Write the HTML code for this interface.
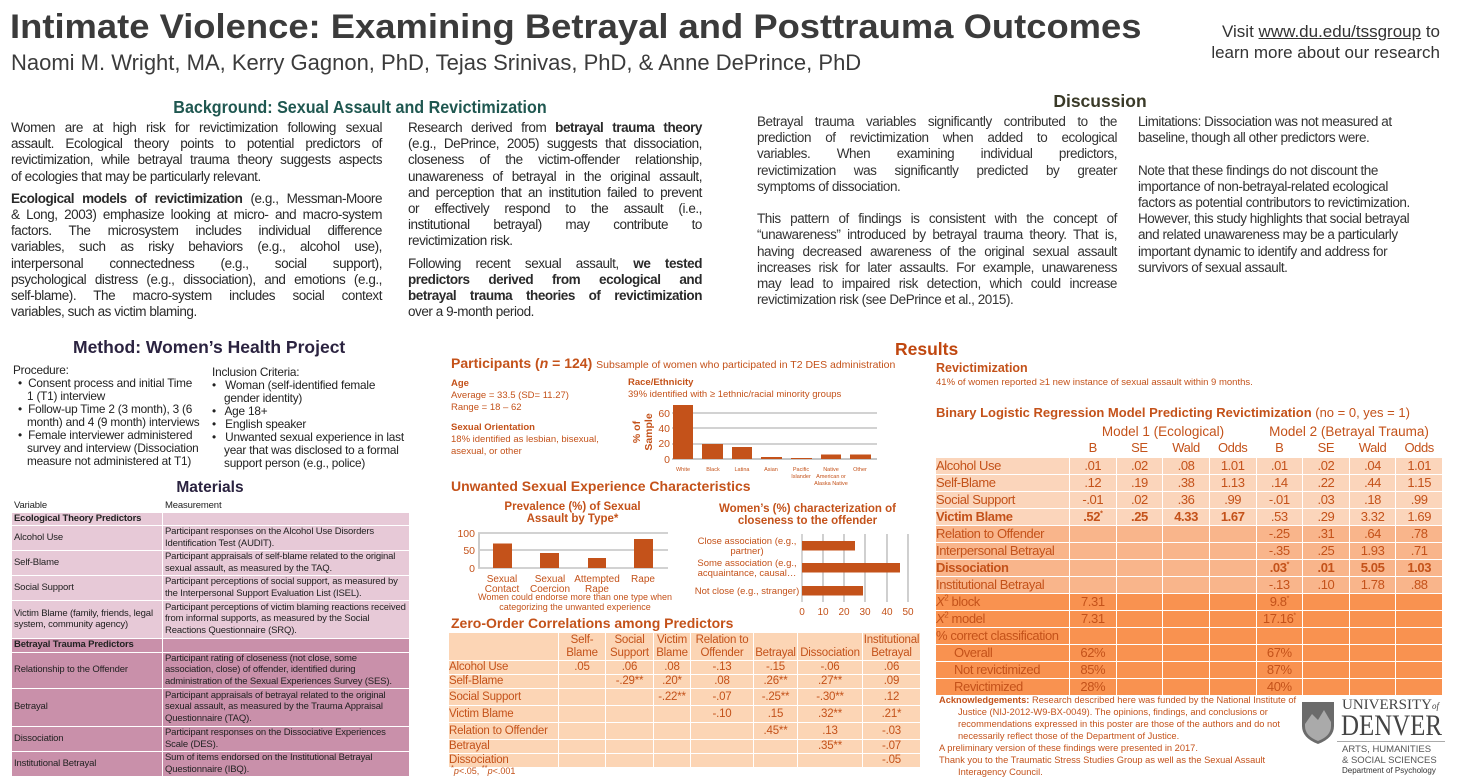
<!DOCTYPE html>
<html><head><meta charset="utf-8"><style>
*{margin:0;padding:0;box-sizing:border-box}
body{width:1458px;height:782px;background:#fff;position:relative;overflow:hidden;font-family:"Liberation Sans",sans-serif;color:#222}
.a{position:absolute}
sup{line-height:0}
.n{font-size:13.5px;line-height:16.2px;letter-spacing:-0.45px;color:#2a2a2a}
.j{text-align:justify;text-align-last:justify;white-space:nowrap}
.n div{height:16.2px}
.or{color:#c4521a}
table{border-collapse:collapse;table-layout:fixed}
.mt td{border:1.5px solid #fff;font-size:9.5px;line-height:11.5px;padding:0 2px;color:#222;vertical-align:middle;letter-spacing:-0.15px;overflow:hidden}
.zt td{border:1px solid #fff;font-size:11.5px;line-height:13px;color:#c4521a;text-align:center;padding:0;letter-spacing:-0.2px;white-space:nowrap}
.rt td{border:1.5px solid #fff;font-size:13px;line-height:12px;color:#c4521a;text-align:center;padding:0;height:17px;letter-spacing:-0.4px;white-space:nowrap;overflow:hidden}
.rt td:first-child{text-align:left}
.l1 td{background:#fbd5bb}.l2 td{background:#f9b58b}.l3 td{background:#f99250}
ul{list-style:none}
</style></head><body>

<div class="a" style="left:10px;top:8px;font-size:34px;font-weight:bold;color:#3b3b3b;transform:scaleX(1.07);transform-origin:0 0;white-space:nowrap">Intimate Violence: Examining Betrayal and Posttrauma Outcomes</div>
<div class="a" style="left:11px;top:50px;font-size:22px;color:#3b3b3b;white-space:nowrap">Naomi M. Wright, MA, Kerry Gagnon, PhD, Tejas Srinivas, PhD, &amp; Anne DePrince, PhD</div>
<div class="a" style="left:1190px;top:21px;width:250px;text-align:right;font-size:17px;line-height:21px;color:#333">Visit <u>www.du.edu/tssgroup</u> to<br>learn more about our research</div>

<div class="a" style="left:100px;top:97px;width:520px;text-align:center;font-size:17.5px;font-weight:bold;color:#1f5750;transform:scaleX(0.92)">Background: Sexual Assault and Revictimization</div>
<div class="a n" style="left:11px;top:120px;width:371px">
<div class="j">Women are at high risk for revictimization following sexual</div>
<div class="j">assault. Ecological theory points to potential predictors of</div>
<div class="j">revictimization, while betrayal trauma theory suggests aspects</div>
<div>of ecologies that may be particularly relevant.</div>
<div style="height:6px"></div>
<div class="j"><b>Ecological models of revictimization</b> (e.g., Messman-Moore</div>
<div class="j">&amp; Long, 2003) emphasize looking at micro- and macro-system</div>
<div class="j">factors. The microsystem includes individual difference</div>
<div class="j">variables, such as risky behaviors (e.g., alcohol use),</div>
<div class="j">interpersonal connectedness (e.g., social support),</div>
<div class="j">psychological distress (e.g., dissociation), and emotions (e.g.,</div>
<div class="j">self-blame). The macro-system includes social context</div>
<div>variables, such as victim blaming.</div>
</div>
<div class="a n" style="left:408px;top:120px;width:294px">
<div class="j">Research derived from <b>betrayal trauma theory</b></div>
<div class="j">(e.g., DePrince, 2005) suggests that dissociation,</div>
<div class="j">closeness of the victim-offender relationship,</div>
<div class="j">unawareness of betrayal in the original assault,</div>
<div class="j">and perception that an institution failed to prevent</div>
<div class="j">or effectively respond to the assault (i.e.,</div>
<div class="j">institutional betrayal) may contribute to</div>
<div>revictimization risk.</div>
<div style="height:6px"></div>
<div class="j">Following recent sexual assault, <b>we tested</b></div>
<div class="j"><b>predictors derived from ecological and</b></div>
<div class="j"><b>betrayal trauma theories of revictimization</b></div>
<div>over a 9-month period.</div>
</div>

<div class="a" style="left:1000px;top:91px;width:200px;text-align:center;font-size:17.5px;font-weight:bold;color:#3a3a28">Discussion</div>
<div class="a n" style="left:757px;top:114px;width:360px;color:#333">
<div class="j">Betrayal trauma variables significantly contributed to the</div>
<div class="j">prediction of revictimization when added to ecological</div>
<div class="j">variables. When examining individual predictors,</div>
<div class="j">revictimization was significantly predicted by greater</div>
<div>symptoms of dissociation.</div>
<div></div>
<div class="j">This pattern of findings is consistent with the concept of</div>
<div class="j">“unawareness” introduced by betrayal trauma theory. That is,</div>
<div class="j">having decreased awareness of the original sexual assault</div>
<div class="j">increases risk for later assaults. For example, unawareness</div>
<div class="j">may lead to impaired risk detection, which could increase</div>
<div>revictimization risk (see DePrince et al., 2015).</div>
</div>
<div class="a n" style="left:1138px;top:114px;width:300px;color:#333">
<div>Limitations: Dissociation was not measured at</div>
<div>baseline, though all other predictors were.</div>
<div></div>
<div>Note that these findings do not discount the</div>
<div>importance of non-betrayal-related ecological</div>
<div>factors as potential contributors to revictimization.</div>
<div>However, this study highlights that social betrayal</div>
<div>and related unawareness may be a particularly</div>
<div>important dynamic to identify and address for</div>
<div>survivors of sexual assault.</div>
</div>

<div class="a" style="left:73px;top:337px;font-size:17.5px;font-weight:bold;color:#2b2340">Method: Women’s Health Project</div>
<div class="a" style="left:13px;top:364px;width:200px;font-size:11.8px;line-height:13px;color:#222;letter-spacing:-0.2px">Procedure:
<ul>
<li style="padding-left:14px;text-indent:-9px">•&nbsp; Consent process and initial Time<br>1 (T1) interview</li>
<li style="padding-left:14px;text-indent:-9px">•&nbsp; Follow-up Time 2 (3 month), 3 (6<br>month) and 4 (9 month) interviews</li>
<li style="padding-left:14px;text-indent:-9px">•&nbsp; Female interviewer administered<br>survey and interview (Dissociation<br>measure not administered at T1)</li>
</ul></div>
<div class="a" style="left:212px;top:366px;width:205px;font-size:11.8px;line-height:13px;color:#222;letter-spacing:-0.2px">Inclusion Criteria:
<ul>
<li style="padding-left:12px;text-indent:-12px">•&nbsp;&nbsp; Woman (self-identified female<br>gender identity)</li>
<li style="padding-left:12px;text-indent:-12px">•&nbsp;&nbsp; Age 18+</li>
<li style="padding-left:12px;text-indent:-12px">•&nbsp;&nbsp; English speaker</li>
<li style="padding-left:12px;text-indent:-12px">•&nbsp;&nbsp; Unwanted sexual experience in last<br>year that was disclosed to a formal<br>support person (e.g., police)</li>
</ul></div>

<div class="a" style="left:110px;top:479px;width:200px;text-align:center;font-size:15.5px;font-weight:bold;color:#2b2340">Materials</div>
<table class="a mt" style="left:11px;top:499px;width:399px">
<colgroup><col style="width:151px"><col></colgroup>
<tr style="height:11px"><td style="background:#fff">Variable</td><td style="background:#fff">Measurement</td></tr>
<tr style="height:13px;background:#e7c9d7"><td><b>Ecological Theory Predictors</b></td><td></td></tr>
<tr style="height:25px;background:#e7c9d7"><td>Alcohol Use</td><td>Participant responses on the Alcohol Use Disorders Identification Test (AUDIT).</td></tr>
<tr style="height:25px;background:#e7c9d7"><td>Self-Blame</td><td>Participant appraisals of self-blame related to the original sexual assault, as measured by the TAQ.</td></tr>
<tr style="height:25px;background:#e7c9d7"><td>Social Support</td><td>Participant perceptions of social support, as measured by the Interpersonal Support Evaluation List (ISEL).</td></tr>
<tr style="height:38px;background:#e7c9d7"><td>Victim Blame (family, friends, legal system, community agency)</td><td>Participant perceptions of victim blaming reactions received from informal supports, as measured by the Social Reactions Questionnaire (SRQ).</td></tr>
<tr style="height:14px;background:#c990aa"><td><b>Betrayal Trauma Predictors</b></td><td></td></tr>
<tr style="height:36px;background:#c990aa"><td>Relationship to the Offender</td><td>Participant rating of closeness (not close, some association, close) of offender, identified during administration of the Sexual Experiences Survey (SES).</td></tr>
<tr style="height:38px;background:#c990aa"><td>Betrayal</td><td>Participant appraisals of betrayal related to the original sexual assault, as measured by the Trauma Appraisal Questionnaire (TAQ).</td></tr>
<tr style="height:25px;background:#c990aa"><td>Dissociation</td><td>Participant responses on the Dissociative Experiences Scale (DES).</td></tr>
<tr style="height:25px;background:#c990aa"><td>Institutional Betrayal</td><td>Sum of items endorsed on the Institutional Betrayal Questionnaire (IBQ).</td></tr>
</table>

<div class="a or" style="left:451px;top:355px;font-size:14px;font-weight:bold;white-space:nowrap">Participants (<i>n</i> = 124) <span style="font-weight:normal;font-size:10.5px">Subsample of women who participated in T2 DES administration</span></div>
<div class="a or" style="left:451px;top:378px;font-size:9.5px;line-height:12px"><b>Age</b><br>Average = 33.5 (SD= 11.27)<br>Range = 18 – 62<br><div style="height:8px"></div><b>Sexual Orientation</b><br>18% identified as lesbian, bisexual,<br>asexual, or other</div>
<div class="a or" style="left:628px;top:377px;font-size:9.5px;line-height:12px"><b>Race/Ethnicity</b><br>39% identified with ≥ 1ethnic/racial minority groups</div>
<div class="a or" style="left:451px;top:478px;font-size:14px;font-weight:bold">Unwanted Sexual Experience Characteristics</div>
<div class="a or" style="left:470px;top:501px;width:205px;text-align:center;font-size:11.5px;line-height:12px;font-weight:bold">Prevalence (%) of Sexual<br>Assault by Type*</div>
<div class="a or" style="left:700px;top:503px;width:215px;text-align:center;font-size:11.5px;line-height:12px;font-weight:bold">Women’s (%) characterization of<br>closeness to the offender</div>

<svg class="a" style="left:0;top:0" width="1458" height="782" font-family="Liberation Sans, sans-serif">
<g fill="#c4521a" font-size="8.5">
<g stroke="#888" stroke-width="0.8"><line x1="672" y1="413" x2="877" y2="413"/><line x1="672" y1="428" x2="877" y2="428"/><line x1="672" y1="444" x2="877" y2="444"/><line x1="672" y1="459" x2="877" y2="459" stroke="#666"/></g>
<rect x="673" y="405" width="20" height="54"/><rect x="702" y="444" width="21" height="15"/><rect x="732" y="447" width="20" height="12"/><rect x="761" y="457" width="21" height="2"/><rect x="791" y="458" width="21" height="1"/><rect x="821" y="454.5" width="20" height="4.5"/><rect x="850" y="454.5" width="21" height="4.5"/>
<g font-size="10.5" text-anchor="end"><text x="670" y="417">60</text><text x="670" y="432">40</text><text x="670" y="447">20</text><text x="670" y="463">0</text></g>
<text transform="translate(640,432) rotate(-90)" text-anchor="middle" font-size="10.5" font-weight="bold">% of</text>
<text transform="translate(652,432) rotate(-90)" text-anchor="middle" font-size="10.5" font-weight="bold">Sample</text>
<g font-size="5.5" text-anchor="middle"><text x="683" y="471">White</text><text x="713" y="471">Black</text><text x="742" y="471">Latina</text><text x="771" y="471">Asian</text><text x="801" y="471">Pacific</text><text x="801" y="478">Islander</text><text x="831" y="471">Native</text><text x="831" y="478">American or</text><text x="831" y="485">Alaska Native</text><text x="860" y="471">Other</text></g>
<g stroke="#888" stroke-width="0.8"><line x1="478" y1="533" x2="668" y2="533"/><line x1="478" y1="550" x2="668" y2="550"/><line x1="478" y1="568" x2="668" y2="568"/></g>
<line x1="479" y1="533" x2="479" y2="568" stroke="#ccc" stroke-width="2"/>
<rect x="493" y="543.5" width="19" height="24.5"/><rect x="540" y="553" width="19" height="15"/><rect x="588" y="558" width="18" height="10"/><rect x="634" y="539" width="19" height="29"/>
<g font-size="10.5" text-anchor="end"><text x="475" y="537">100</text><text x="475" y="554">50</text><text x="475" y="572">0</text></g>
<g font-size="10" text-anchor="middle"><text x="502" y="582">Sexual</text><text x="502" y="592">Contact</text><text x="550" y="582">Sexual</text><text x="550" y="592">Coercion</text><text x="597" y="582">Attempted</text><text x="597" y="592">Rape</text><text x="643" y="582">Rape</text>
<text x="575" y="600" font-size="9">Women  could endorse more than one type when</text><text x="575" y="610" font-size="9">categorizing the unwanted experience</text></g>
<g stroke="#888" stroke-width="0.8"><line x1="823" y1="534" x2="823" y2="602"/><line x1="844" y1="534" x2="844" y2="602"/><line x1="865" y1="534" x2="865" y2="602"/><line x1="887" y1="534" x2="887" y2="602"/><line x1="908" y1="534" x2="908" y2="602"/></g>
<line x1="802" y1="534" x2="802" y2="602" stroke="#aaa"/>
<rect x="802" y="541" width="53" height="9.5"/><rect x="802" y="563" width="98" height="9.5"/><rect x="802" y="586" width="61" height="9.5"/>
<g font-size="10" text-anchor="middle"><text x="802" y="615">0</text><text x="823" y="615">10</text><text x="844" y="615">20</text><text x="865" y="615">30</text><text x="887" y="615">40</text><text x="908" y="615">50</text></g>
<g font-size="9.5" text-anchor="middle"><text x="747" y="544">Close association (e.g.,</text><text x="747" y="554">partner)</text><text x="747" y="566">Some association (e.g.,</text><text x="747" y="576">acquaintance, causal…</text><text x="747" y="594">Not close (e.g., stranger)</text></g>
</g>
</svg>

<div class="a or" style="left:451px;top:615px;font-size:14px;line-height:16px;font-weight:bold">Zero-Order Correlations among Predictors</div>
<table class="a zt" style="left:448px;top:632px;width:473px;background:#fcd5b5">
<colgroup><col style="width:110px"><col style="width:47px"><col style="width:48px"><col style="width:37px"><col style="width:63px"><col style="width:44px"><col style="width:65px"><col></colgroup>
<tr style="height:28px"><td></td><td>Self-<br>Blame</td><td>Social<br>Support</td><td>Victim<br>Blame</td><td>Relation to<br>Offender</td><td style="vertical-align:bottom">Betrayal</td><td style="vertical-align:bottom">Dissociation</td><td>Institutional<br>Betrayal</td></tr>
<tr style="height:14px"><td style="text-align:left">Alcohol Use</td><td>.05</td><td>.06</td><td>.08</td><td>-.13</td><td>-.15</td><td>-.06</td><td>.06</td></tr>
<tr style="height:14px"><td style="text-align:left">Self-Blame</td><td></td><td>-.29**</td><td>.20*</td><td>.08</td><td>.26**</td><td>.27**</td><td>.09</td></tr>
<tr style="height:17px"><td style="text-align:left">Social Support</td><td></td><td></td><td>-.22**</td><td>-.07</td><td>-.25**</td><td>-.30**</td><td>.12</td></tr>
<tr style="height:17px"><td style="text-align:left">Victim Blame</td><td></td><td></td><td></td><td>-.10</td><td>.15</td><td>.32**</td><td>.21*</td></tr>
<tr style="height:17px"><td style="text-align:left">Relation to Offender</td><td></td><td></td><td></td><td></td><td>.45**</td><td>.13</td><td>-.03</td></tr>
<tr style="height:14px"><td style="text-align:left">Betrayal</td><td></td><td></td><td></td><td></td><td></td><td>.35**</td><td>-.07</td></tr>
<tr style="height:14px"><td style="text-align:left">Dissociation</td><td></td><td></td><td></td><td></td><td></td><td></td><td>-.05</td></tr>
</table>
<div class="a or" style="left:451px;top:766px;font-size:9px"><sup>*</sup><i>p</i>&lt;.05, <sup>**</sup><i>p</i>&lt;.001</div>

<div class="a" style="left:895px;top:339px;font-size:17.5px;font-weight:bold;color:#c0470f">Results</div>
<div class="a or" style="left:936px;top:361px;font-size:12.5px;font-weight:bold">Revictimization</div>
<div class="a or" style="left:936px;top:377px;font-size:9.5px">41% of women reported ≥1 new instance of sexual assault within 9 months.</div>
<div class="a or" style="left:936px;top:405px;font-size:13px;white-space:nowrap"><b>Binary Logistic Regression Model Predicting Revictimization</b> (no = 0, yes = 1)</div>
<div class="a or" style="left:1070px;top:424px;width:186px;text-align:center;font-size:13.5px">Model 1 (Ecological)</div>
<div class="a or" style="left:1256px;top:424px;width:186px;text-align:center;font-size:13.5px">Model 2 (Betrayal Trauma)</div>
<table class="a rt" style="left:935px;top:440px;width:508px">
<colgroup><col style="width:134px"><col><col><col><col><col><col><col><col></colgroup>
<tr><td style="border:none;height:16px"></td><td style="border:none">B</td><td style="border:none">SE</td><td style="border:none">Wald</td><td style="border:none">Odds</td><td style="border:none">B</td><td style="border:none">SE</td><td style="border:none">Wald</td><td style="border:none">Odds</td></tr>
<tr class="l1"><td>Alcohol Use</td><td>.01</td><td>.02</td><td>.08</td><td>1.01</td><td>.01</td><td>.02</td><td>.04</td><td>1.01</td></tr>
<tr class="l1"><td>Self-Blame</td><td>.12</td><td>.19</td><td>.38</td><td>1.13</td><td>.14</td><td>.22</td><td>.44</td><td>1.15</td></tr>
<tr class="l1"><td>Social Support</td><td>-.01</td><td>.02</td><td>.36</td><td>.99</td><td>-.01</td><td>.03</td><td>.18</td><td>.99</td></tr>
<tr class="l1"><td><b>Victim Blame</b></td><td><b>.52<sup style="font-size:7px">*</sup></b></td><td><b>.25</b></td><td><b>4.33</b></td><td><b>1.67</b></td><td>.53</td><td>.29</td><td>3.32</td><td>1.69</td></tr>
<tr class="l2"><td>Relation to Offender</td><td></td><td></td><td></td><td></td><td>-.25</td><td>.31</td><td>.64</td><td>.78</td></tr>
<tr class="l2"><td>Interpersonal Betrayal</td><td></td><td></td><td></td><td></td><td>-.35</td><td>.25</td><td>1.93</td><td>.71</td></tr>
<tr class="l2"><td><b>Dissociation</b></td><td></td><td></td><td></td><td></td><td><b>.03<sup style="font-size:7px">*</sup></b></td><td><b>.01</b></td><td><b>5.05</b></td><td><b>1.03</b></td></tr>
<tr class="l2"><td>Institutional Betrayal</td><td></td><td></td><td></td><td></td><td>-.13</td><td>.10</td><td>1.78</td><td>.88</td></tr>
<tr class="l3"><td><i>X</i><sup style="font-size:8px">2</sup> block</td><td>7.31</td><td></td><td></td><td></td><td>9.8<sup style="font-size:7px">*</sup></td><td></td><td></td><td></td></tr>
<tr class="l3"><td><i>X</i><sup style="font-size:8px">2</sup> model</td><td>7.31</td><td></td><td></td><td></td><td>17.16<sup style="font-size:7px">*</sup></td><td></td><td></td><td></td></tr>
<tr class="l3"><td>% correct classification</td><td></td><td></td><td></td><td></td><td></td><td></td><td></td><td></td></tr>
<tr class="l3"><td style="padding-left:18px">Overall</td><td>62%</td><td></td><td></td><td></td><td>67%</td><td></td><td></td><td></td></tr>
<tr class="l3"><td style="padding-left:18px">Not revictimized</td><td>85%</td><td></td><td></td><td></td><td>87%</td><td></td><td></td><td></td></tr>
<tr class="l3"><td style="padding-left:18px">Revictimized</td><td>28%</td><td></td><td></td><td></td><td>40%</td><td></td><td></td><td></td></tr>
</table>

<div class="a or" style="left:939px;top:694px;width:360px;font-size:9.3px;line-height:12px">
<div style="padding-left:19px;text-indent:-19px"><b>Acknowledgements:</b> Research described here was funded by the National Institute of Justice (NIJ-2012-W9-BX-0049). The opinions, findings, and conclusions or recommendations expressed in this poster are those of the authors and do not necessarily reflect those of the Department of Justice.</div>
<div>A preliminary version of these findings were presented in 2017.</div>
<div style="padding-left:19px;text-indent:-19px">Thank you to the Traumatic Stress Studies Group as well as the Sexual Assault Interagency Council.</div>
</div>
<svg class="a" style="left:1300px;top:700px" width="36" height="46"><path d="M2 2 H34 V26 Q34 38 18 44 Q2 38 2 26 Z" fill="#6b6b6b"/><path d="M5 24 L12 14 L18 20 L24 10 L31 22 V26 Q31 36 18 41 Q5 36 5 26Z" fill="#aaa"/></svg>
<div class="a" style="left:1342px;top:698px;font-family:'Liberation Serif',serif;color:#444;font-size:15px;line-height:15px">UNIVERSITY<i style="font-size:9px">of</i></div>
<div class="a" style="left:1341px;top:711px;font-family:'Liberation Serif',serif;color:#444;font-size:30px;line-height:30px;transform:scaleX(0.83);transform-origin:0 0">DENVER</div>
<div class="a" style="left:1337px;top:741px;width:108px;border-top:1px solid #aaa"></div>
<div class="a" style="left:1342px;top:745px;color:#555;font-size:9.5px;line-height:10.5px">ARTS, HUMANITIES<br>&amp; SOCIAL SCIENCES<br><span style="font-size:8px;color:#333">Department of Psychology</span></div>
</body></html>
